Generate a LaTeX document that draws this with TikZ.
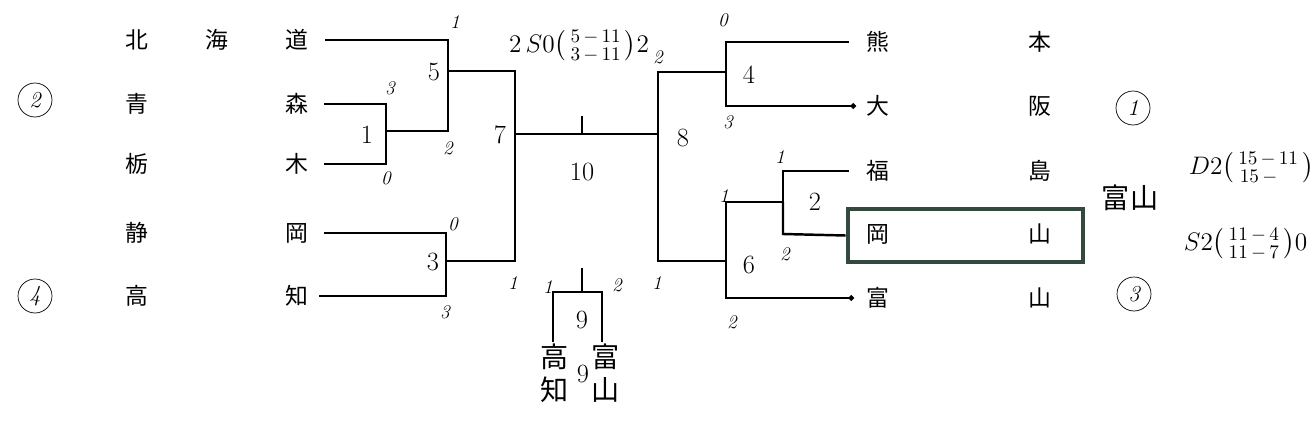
\documentclass[tikz,border=0pt]{standalone}
\usepackage{fontspec}
\usepackage{amsmath}
\newfontfamily\jfont{Noto Sans CJK JP}
\usetikzlibrary{arrows.meta}
\definecolor{boxgreen}{HTML}{34493D}

\begin{document}
\begin{tikzpicture}[x=0.02cm,y=-0.02cm,line width=0.9pt]
\tikzset{
  pref/.style={font=\jfont\fontsize{13}{15}\selectfont, inner sep=0pt},
  game/.style={font=\fontsize{15}{17}\selectfont, inner sep=1pt},
  score/.style={font=\itshape\fontsize{11}{13}\selectfont, inner sep=0pt},
  note/.style={font=\fontsize{15}{17}\selectfont, inner sep=0pt},
  seed/.style={circle, draw, thin, minimum size=0.68cm, inner sep=0pt, font=\itshape\fontsize{13}{15}\selectfont},
  hand/.style={font=\jfont\fontsize{16}{18}\selectfont, inner sep=1pt},
  win/.style={line width=1.4pt},
  fin/.style={-{Circle[length=3pt]}}
}
\useasboundingbox (0,0) rectangle (1316,443);

% Teams, left half
\node[pref] (hok1) at (137,40) {北};
\node[pref] (hok2) at (217,40) {海};
\node[pref] (hok3) at (297,40) {道};
\node[pref] (aom1) at (137,104) {青};
\node[pref] (aom2) at (297,104) {森};
\node[pref] (toc1) at (137,164) {栃};
\node[pref] (toc2) at (297,164) {木};
\node[pref] (shz1) at (137,233) {静};
\node[pref] (shz2) at (297,233) {岡};
\node[pref] (koc1) at (137,296) {高};
\node[pref] (koc2) at (297,296) {知};

% Teams, right half
\node[pref] (kum1) at (878,42) {熊};
\node[pref] (kum2) at (1040,42) {本};
\node[pref] (osa1) at (878,106) {大};
\node[pref] (osa2) at (1040,106) {阪};
\node[pref] (fuk1) at (878,171) {福};
\node[pref] (fuk2) at (1040,171) {島};
\node[pref] (oka1) at (878,234) {岡};
\node[pref] (oka2) at (1040,234) {山};
\node[pref] (toy1) at (878,298) {富};
\node[pref] (toy2) at (1040,298) {山};

% Seeds
\node[seed] (seed2) at (35,100) {2};
\node[seed] (seed4) at (35,296) {4};
\node[seed] (seed1) at (1133,108) {1};
\node[seed] (seed3) at (1134,294) {3};

% Bracket points
\coordinate (m1a) at (386,104);
\coordinate (m1b) at (386,164);
\coordinate (m1) at (386,131);
\coordinate (m5a) at (448,40);
\coordinate (m5b) at (448,131);
\coordinate (m5) at (448,71);
\coordinate (m3a) at (446,233);
\coordinate (m3b) at (446,296);
\coordinate (m3) at (446,261);
\coordinate (m7a) at (515,71);
\coordinate (m7b) at (515,261);
\coordinate (m7) at (515,134);
\coordinate (m10a) at (582,116);
\coordinate (m10) at (582,134);
\coordinate (m8a) at (658,72);
\coordinate (m8b) at (658,261);
\coordinate (m8) at (658,134);
\coordinate (m4a) at (726,42);
\coordinate (m4b) at (726,106);
\coordinate (m4) at (726,72);
\coordinate (m6a) at (726,202);
\coordinate (m6b) at (726,298);
\coordinate (m6) at (726,261);
\coordinate (m2a) at (783,171);
\coordinate (m2b) at (783,234);
\coordinate (m2) at (783,202);
\coordinate (m9t) at (582,268);
\coordinate (m9) at (582,292);
\coordinate (m9l) at (553,292);
\coordinate (m9r) at (602,292);

% Box round the winner
\node[draw=boxgreen, line width=2.8pt, minimum width=4.7cm, minimum height=1.06cm] (okabox) at (965.5,235.5) {};

% Lines, left half
\draw ([xshift=0.32cm]hok3.east) -- (m5a) -- (m5);
\draw[win] ([xshift=0.3cm]aom2.east) -- (m1a) -- (m1);
\draw ([xshift=0.3cm]toc2.east) -- (m1b) -- (m1);
\draw[win] (m1) -- (m5b) -- (m5);
\draw[win] (m5) -- (m7a) -- (m7);
\draw ([xshift=0.3cm]shz2.east) -- (m3a) -- (m3);
\draw[win] ([xshift=0.2cm]koc2.east) -- (m3b) -- (m3);
\draw (m3) -- (m7b) -- (m7);

% Final
\draw (m7) -- (m8);
\draw[win] (m10a) -- (m10);

% Lines, right half
\draw[win] (m8) -- (m8a) -- (m4);
\draw (m8) -- (m8b) -- (m6);
\draw (m4) -- (m4a) -- ([xshift=-0.34cm]kum1.west);
\draw[win,fin] (m4) -- (m4b) -- ([xshift=-0.2cm]osa1.west);
\draw (m6) -- (m6a) -- (m2);
\draw[win,fin] (m6) -- (m6b) -- ([xshift=-0.24cm]toy1.west);
\draw (m2) -- (m2a) -- ([xshift=-0.34cm]fuk1.west);
\draw[win] (m2) -- (m2b) -- (okabox.west);

% Third place
\node[hand] (koc3) at (555,357) {高};
\node[hand] (toy3) at (606,357) {富};
\node[hand] (koc4) at (555,390) {知};
\node[hand] (toy4) at (606,390) {山};
\draw (m9t) -- (m9);
\draw (m9l |- koc3.north) -- (m9l) -- (m9r) -- (m9r |- toy3.north);

% Game numbers
\node[game] (g1) at (367,135) {1};
\node[game] (g5) at (434,72) {5};
\node[game] (g3) at (433,262) {3};
\node[game] (g7) at (500,135) {7};
\node[game] (g10) at (582,172) {10};
\node[game] (g8) at (683,138) {8};
\node[game] (g4) at (749,75) {4};
\node[game] (g2) at (815,202) {2};
\node[game] (g6) at (749,265) {6};
\node[game] (g9) at (582,320) {9};
\node[game] (g9b) at (583,374) {9};

% Scores
\node[score] (p5a) at (455,22) {1};
\node[score] (p1a) at (390,88) {3};
\node[score] (p1b) at (386,178) {0};
\node[score] (p5b) at (448,148) {2};
\node[score] (p3a) at (453,224) {0};
\node[score] (p3b) at (445,312) {3};
\node[score] (p7b) at (513,283) {1};
\node[score] (p8a) at (658,57) {2};
\node[score] (p8b) at (657,283) {1};
\node[score] (p4a) at (723,20) {0};
\node[score] (p4b) at (728,122) {3};
\node[score] (p2a) at (780,157) {1};
\node[score] (p2b) at (785,254) {2};
\node[score] (p6a) at (724,196) {1};
\node[score] (p6b) at (732,322) {2};
\node[score] (p9a) at (548,287) {1};
\node[score] (p9b) at (617,285) {2};

% Notes
\node[note] (n10) at (579,46) {$2\,S0\!\left(\begin{smallmatrix}5\,-\,11\\3\,-\,11\end{smallmatrix}\right)\!2$};
\node[hand] (nwin) at (1130,198) {富山};
\node[note, anchor=west] (nd) at (1188,168) {$D2\!\left(\begin{smallmatrix}15\,-\,11\\15\,-\phantom{11}\end{smallmatrix}\right)$};
\node[note, anchor=west] (ns) at (1183,244) {$S2\!\left(\begin{smallmatrix}11\,-\,4\\11\,-\,7\end{smallmatrix}\right)\!0$};
\end{tikzpicture}
\end{document}
